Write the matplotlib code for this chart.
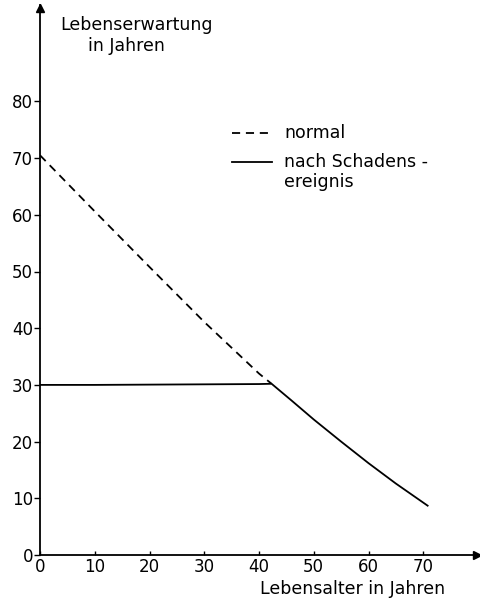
import matplotlib
matplotlib.use("Agg")
import matplotlib.pyplot as plt

# Lebenserwartung (Jahre) über Lebensalter (Jahre)
alter_normal = [0, 10, 20, 30, 40, 42.3]
erwartung_normal = [70.5, 60.6, 50.8, 41.1, 32.0, 30.2]

alter_schaden = [0, 10, 20, 30, 40, 42.3, 46, 50, 55, 60, 65, 70.8]
erwartung_schaden = [30.0, 30.0, 30.05, 30.1, 30.15, 30.2, 27.2, 23.9, 20.0, 16.2, 12.6, 8.7]

x_ticks = [0, 10, 20, 30, 40, 50, 60, 70]
y_ticks = [0, 10, 20, 30, 40, 50, 60, 70, 80]

plt.rcParams["font.family"] = ["DejaVu Sans"]
FS_TICK = 12
FS = 12.5

W, H = 480, 602
fig = plt.figure(figsize=(W / 100, H / 100), dpi=100)
left_px, right_px, bottom_px, top_px = 40, 479, 555, 5
ax = fig.add_axes([left_px / W, 1 - bottom_px / H,
                   (right_px - left_px) / W, (bottom_px - top_px) / H])

ax.set_xlim(0, (right_px - left_px) / 5.475)
ax.set_ylim(0, (bottom_px - top_px) / 5.67)

ax.plot(alter_normal, erwartung_normal, color="black", lw=1.3,
        dashes=(4.5, 3.2), solid_capstyle="butt")
ax.plot(alter_schaden, erwartung_schaden, color="black", lw=1.3)

for s in ("top", "right"):
    ax.spines[s].set_visible(False)
for s in ("left", "bottom"):
    ax.spines[s].set_linewidth(1.3)

# Pfeilspitzen an den Achsen
ax.plot([0], [0.995], marker="^", color="black", markersize=6,
        transform=ax.transAxes, clip_on=False)
ax.plot([0.995], [0], marker=">", color="black", markersize=6,
        transform=ax.transAxes, clip_on=False)

ax.set_xticks(x_ticks)
ax.set_yticks(y_ticks)
ax.tick_params(axis="y", direction="out", length=4, width=1, pad=1, labelsize=FS_TICK)
ax.tick_params(axis="x", direction="in", length=3, width=1, pad=2, labelsize=FS_TICK)

# Achsenbeschriftungen
fig.text(60 / W, 1 - 25 / H, "Lebenserwartung", fontsize=FS, va="center", ha="left")
fig.text(88 / W, 1 - 46 / H, "in Jahren", fontsize=FS, va="center", ha="left")
fig.text(445 / W, 1 - 589 / H, "Lebensalter in Jahren", fontsize=FS, va="center", ha="right")

# Legende
lx0, lx1 = 232, 272
fig.add_artist(plt.Line2D([lx0 / W, lx1 / W], [1 - 133 / H] * 2, color="black",
                          lw=1.3, dashes=(4.5, 3.2)))
fig.add_artist(plt.Line2D([lx0 / W, lx1 / W], [1 - 162 / H] * 2, color="black", lw=1.3))
fig.text(284 / W, 1 - 133 / H, "normal", fontsize=FS, va="center", ha="left")
fig.text(284 / W, 1 - 162 / H, "nach Schadens -", fontsize=FS, va="center", ha="left")
fig.text(284 / W, 1 - 182 / H, "ereignis", fontsize=FS, va="center", ha="left")

fig.savefig("out.png", dpi=100)
